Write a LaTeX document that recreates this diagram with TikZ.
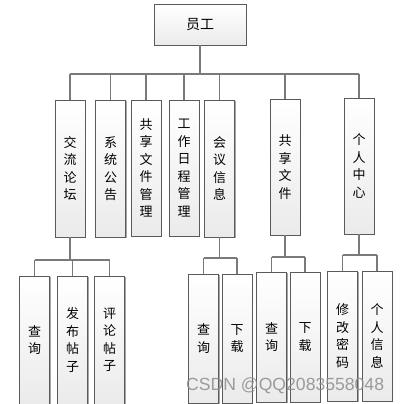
\documentclass[tikz,border=0pt]{standalone}
\usepackage{fontspec}
\newfontfamily\cjk{Noto Sans CJK SC}
\usetikzlibrary{shadows}
\definecolor{boxline}{HTML}{5A5A5A}
\definecolor{conn}{HTML}{7A7A7A}
\tikzset{
  box/.style={draw=boxline, line width=0.8pt, top color=white, bottom color=black!8,
    drop shadow={shadow xshift=1.3pt, shadow yshift=-1.3pt, opacity=0.35, fill=black},
    inner sep=0pt, align=center, font=\cjk\fontsize{13}{17.5}\selectfont, minimum width=30pt},
  conn/.style={draw=conn, line width=1.1pt}
}
\begin{document}
\begin{tikzpicture}[x=1pt,y=-1pt]
\clip (0,0) rectangle (400,404);
\fill[white] (0,0) rectangle (400,404);
% root
\node[box, minimum width=92pt, minimum height=41pt, font=\cjk\fontsize{14}{17}\selectfont] (root) at (200,24.5) {员工};
% level 1
\node[box, minimum height=137pt] (a) at (70,168.5) {交\\流\\论\\坛};
\node[box, minimum height=137pt] (b) at (110.5,168.5) {系\\统\\公\\告};
\node[box, minimum height=136pt] (c) at (146,168) {共\\享\\文\\件\\管\\理};
\node[box, minimum height=136pt] (d) at (184,168) {工\\作\\日\\程\\管\\理};
\node[box, minimum height=137pt] (e) at (219.5,168.5) {会\\议\\信\\息};
\node[box, minimum height=136pt] (f) at (285,167) {共\\享\\文\\件};
\node[box, minimum height=136pt] (g) at (359,166) {个\\人\\中\\心};
% level 2
\node[box, minimum height=128pt] (a1) at (34.5,340) {查\\询};
\node[box, minimum height=128pt] (a2) at (72.5,340) {发\\布\\帖\\子};
\node[box, minimum height=128pt] (a3) at (109.5,340) {评\\论\\帖\\子};
\node[box, minimum height=129pt] (e1) at (203.5,338.5) {查\\询};
\node[box, minimum height=129pt] (e2) at (237,338.5) {下\\载};
\node[box, minimum height=130pt] (f1) at (271.5,337) {查\\询};
\node[box, minimum height=130pt] (f2) at (305,337) {下\\载};
\node[box, minimum height=130pt] (g1) at (342.5,336) {修\\改\\密\\码};
\node[box, minimum height=130pt] (g2) at (377,336) {个\\人\\信\\息};
% connectors level 0-1
\coordinate (bus) at (0,74);
\draw[conn] (root.south) -- (root.south |- bus);
\draw[conn] (a.north |- bus) -- (g.north |- bus);
\foreach \n in {a,b,c,d,e,f,g} \draw[conn] (\n.north) -- (\n.north |- bus);
% level 1-2
\coordinate (busa) at (0,260);
\draw[conn] (a.south) -- (a.south |- busa);
\draw[conn] (a1.north |- busa) -- (a3.north |- busa);
\foreach \n in {a1,a2,a3} \draw[conn] (\n.north) -- (\n.north |- busa);
\coordinate (buse) at (0,258);
\draw[conn] (e.south) -- (e.south |- buse);
\draw[conn] (e1.north |- buse) -- (e2.north |- buse);
\foreach \n in {e1,e2} \draw[conn] (\n.north) -- (\n.north |- buse);
\coordinate (busf) at (0,257);
\draw[conn] (f.south) -- (f.south |- busf);
\draw[conn] (f1.north |- busf) -- (f2.north |- busf);
\foreach \n in {f1,f2} \draw[conn] (\n.north) -- (\n.north |- busf);
\coordinate (busg) at (0,255);
\draw[conn] (g.south) -- (g.south |- busg);
\draw[conn] (g1.north |- busg) -- (g2.north |- busg);
\foreach \n in {g1,g2} \draw[conn] (\n.north) -- (\n.north |- busg);
% watermark
\node[anchor=west, inner sep=0pt, text=black!45, opacity=0.85, font=\fontspec{Liberation Sans}\fontsize{17.6}{17.6}\selectfont] (wm) at (186,385.5) {CSDN @QQ2083558048};
\end{tikzpicture}
\end{document}
